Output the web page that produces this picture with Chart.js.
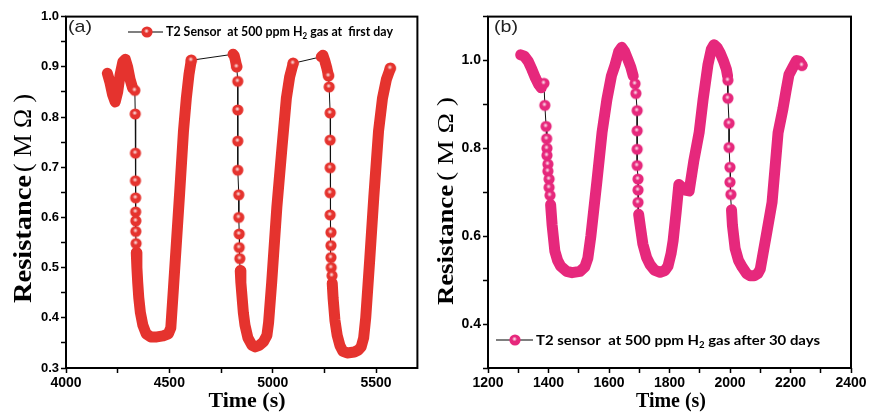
<!DOCTYPE html>
<html>
<head>
<meta charset="utf-8">
<script src="https://cdn.jsdelivr.net/npm/chart.js@4.4.1/dist/chart.umd.min.js"></script>
<style>
  body { margin: 0; background: #fff; width: 872px; height: 419px; overflow: hidden; position: relative; }
  canvas { position: absolute; top: 0; }
  #chartA { left: 0; }
  #chartB { left: 430px; }
</style>
</head>
<body>
<canvas id="chartA" width="434" height="419"></canvas>
<canvas id="chartB" width="442" height="419"></canvas>
<script>
// ---- panel (a): first day ----
const aTime = [
  4200, 4212, 4225, 4238, 4250, 4262, 4275, 4287, 4298, 4310, 4322,
  4333, 4335, 4336, 4336, 4337, 4337, 4338, 4338, 4339,
  4340, 4343, 4347, 4352, 4360, 4372, 4388, 4410, 4440, 4470, 4495, 4507, 4520, 4535, 4550, 4568, 4582, 4595, 4606,
  4808, 4814, 4820, 4826,
  4831, 4831, 4831, 4831, 4836, 4836, 4838, 4838, 4841,
  4843, 4846, 4851, 4858, 4866, 4880, 4900, 4915, 4935, 4955, 4972, 4980, 4995, 5020, 5045, 5066, 5082, 5099,
  5235, 5243, 5252, 5262, 5270,
  5273, 5278, 5278, 5278, 5278, 5278, 5282, 5282, 5282, 5283, 5287,
  5288, 5292, 5301, 5312, 5325, 5340, 5360, 5395, 5415, 5428, 5440, 5450, 5470, 5489, 5512, 5531, 5550, 5569
];
const aRes = [
  0.887, 0.870, 0.845, 0.830, 0.850, 0.885, 0.910, 0.915, 0.900, 0.875, 0.858,
  0.853, 0.806, 0.728, 0.673, 0.639, 0.611, 0.593, 0.572, 0.548,
  0.530, 0.500, 0.470, 0.440, 0.410, 0.385, 0.368, 0.362, 0.362, 0.364, 0.368, 0.380, 0.460, 0.555, 0.650, 0.770, 0.837, 0.885, 0.913,
  0.925, 0.922, 0.912, 0.900,
  0.871, 0.814, 0.752, 0.694, 0.645, 0.600, 0.567, 0.540, 0.518,
  0.494, 0.470, 0.445, 0.410, 0.385, 0.360, 0.345, 0.342, 0.345, 0.352, 0.365, 0.390, 0.470, 0.620, 0.740, 0.837, 0.880, 0.907,
  0.920, 0.923, 0.912, 0.897, 0.882,
  0.860, 0.808, 0.754, 0.699, 0.649, 0.605, 0.570, 0.544, 0.520, 0.500, 0.484,
  0.469, 0.440, 0.395, 0.365, 0.345, 0.333, 0.330, 0.332, 0.336, 0.342, 0.360, 0.400, 0.520, 0.640, 0.772, 0.837, 0.875, 0.897
];
// b = densely sampled (merged band), p = sparse single sample, e = last dense sample of a run
const aKind = (
  'b'.repeat(11) + 'p'.repeat(9) + 'b'.repeat(18) + 'e' +
  'b'.repeat(3) + 'e' + 'p'.repeat(9) + 'b'.repeat(17) + 'e' +
  'b'.repeat(4) + 'e' + 'p'.repeat(11) + 'b'.repeat(17) + 'e'
).split('');
const aXTicks = [4000, 4250, 4500, 4750, 5000, 5250, 5500];
const aXLabels = [4000, 4500, 5000, 5500];
const aYTicks = [0.3, 0.35, 0.4, 0.45, 0.5, 0.55, 0.6, 0.65, 0.7, 0.75, 0.8, 0.85, 0.9, 0.95, 1.0];
const aYLabels = [0.3, 0.4, 0.5, 0.6, 0.7, 0.8, 0.9, 1.0];

// ---- panel (b): after 30 days ----
const bTime = [
  1308, 1320, 1333, 1345, 1357, 1368, 1376,
  1385, 1388, 1392, 1394, 1395, 1395, 1398, 1398, 1402, 1402, 1405,
  1407, 1412, 1421, 1430, 1440, 1460, 1478, 1504, 1520, 1530, 1540, 1560, 1577, 1593, 1608, 1620, 1632, 1642, 1652, 1662, 1672, 1680,
  1686, 1689, 1693, 1693, 1693, 1693, 1696, 1696, 1696,
  1698, 1703, 1712, 1724, 1736, 1750, 1769, 1785, 1795, 1805, 1812, 1822, 1831, 1840, 1852, 1865, 1880, 1898, 1911, 1927, 1938, 1947, 1957, 1967, 1978, 1988, 1992,
  1993, 1993, 1997, 1997, 2000, 2000, 2003,
  2005, 2008, 2017, 2028, 2040, 2055, 2066, 2080, 2092, 2100, 2106, 2122, 2139, 2159, 2175, 2185, 2195, 2208, 2220, 2230,
  2238
];
const bRes = [
  1.013, 1.010, 0.998, 0.980, 0.960, 0.945, 0.938,
  0.948, 0.898, 0.850, 0.822, 0.800, 0.784, 0.764, 0.748, 0.730, 0.711, 0.693,
  0.672, 0.625, 0.566, 0.545, 0.532, 0.520, 0.517, 0.520, 0.530, 0.550, 0.600, 0.725, 0.836, 0.911, 0.965, 0.990, 1.020, 1.030, 1.020, 1.003, 0.985, 0.965,
  0.947, 0.925, 0.886, 0.840, 0.798, 0.761, 0.730, 0.705, 0.677,
  0.650, 0.625, 0.582, 0.552, 0.535, 0.523, 0.518, 0.522, 0.532, 0.560, 0.590, 0.655, 0.718, 0.712, 0.705, 0.703, 0.770, 0.836, 0.911, 0.990, 1.025, 1.036, 1.030, 1.018, 1.000, 0.980, 0.965,
  0.955, 0.914, 0.857, 0.802, 0.757, 0.723, 0.695,
  0.660, 0.625, 0.572, 0.545, 0.530, 0.515, 0.510, 0.510, 0.515, 0.525, 0.548, 0.610, 0.677, 0.836, 0.890, 0.930, 0.968, 0.985, 1.000, 0.998,
  0.989
];
const bKind = (
  'b'.repeat(7) + 'p'.repeat(11) + 'b'.repeat(22) + 'p'.repeat(9) +
  'b'.repeat(27) + 'p'.repeat(7) + 'b'.repeat(20) + 'e'
).split('');
const bXTicks = [1200, 1300, 1400, 1500, 1600, 1700, 1800, 1900, 2000, 2100, 2200, 2300, 2400];
const bXLabels = [1200, 1400, 1600, 1800, 2000, 2200, 2400];
const bYTicks = [0.3, 0.4, 0.5, 0.6, 0.7, 0.8, 0.9, 1.0, 1.1];
const bYLabels = [0.4, 0.6, 0.8, 1.0];

const RED = '#e5332e';
const PINK = '#e6287c';

// shaded ball used for single samples and legend
function ballImage(color, r) {
  const c = document.createElement('canvas');
  const s = Math.ceil(r * 2) + 2;
  c.width = c.height = s;
  const g = c.getContext('2d');
  const m = s / 2;
  g.fillStyle = color;
  g.beginPath(); g.arc(m, m, r, 0, Math.PI * 2); g.fill();
  const hl = g.createRadialGradient(m - 0.5, m - 1, 0, m - 0.5, m - 1, r * 0.45);
  hl.addColorStop(0, 'rgba(255,255,255,0.95)');
  hl.addColorStop(1, 'rgba(255,255,255,0)');
  g.fillStyle = hl;
  g.beginPath(); g.arc(m, m, r, 0, Math.PI * 2); g.fill();
  return c;
}

// draw text pieces scaled horizontally to a target width
function fitText(ctx, parts, x, y, width) {
  let natural = 0;
  parts.forEach(p => { ctx.font = p.font; natural += ctx.measureText(p.t).width; });
  ctx.save();
  ctx.translate(x, y);
  ctx.scale(width / natural, 1);
  ctx.textAlign = 'left';
  ctx.textBaseline = 'alphabetic';
  let cx = 0;
  parts.forEach(p => {
    ctx.font = p.font;
    ctx.fillText(p.t, cx, p.dy || 0);
    cx += ctx.measureText(p.t).width;
  });
  ctx.restore();
}

function hasLabel(list, v) {
  return list.some(l => Math.abs(l - v) < 1e-6);
}

function decorations(cfg) {
  return {
    id: 'decor',
    afterDraw(chart) {
      const ctx = chart.ctx;
      const a = chart.chartArea;
      ctx.save();
      ctx.fillStyle = '#000';
      ctx.strokeStyle = '#000';
      // frame
      ctx.lineWidth = 2;
      ctx.strokeRect(a.left, a.top, a.right - a.left, a.bottom - a.top);

      // panel letter
      ctx.fillStyle = '#222';
      fitText(ctx, [{ t: cfg.letter, font: '17px "Liberation Sans"' }], cfg.letterX, cfg.letterY, 24);
      ctx.fillStyle = '#000';

      // legend
      const L = cfg.legend;
      ctx.lineWidth = 1.2;
      ctx.beginPath();
      ctx.moveTo(L.x1, L.ballY); ctx.lineTo(L.x2, L.ballY);
      ctx.stroke();
      ctx.drawImage(cfg.ball, L.ballX - cfg.ball.width / 2, L.ballY - cfg.ball.height / 2);
      fitText(ctx, [
        { t: L.pre, font: 'bold 14px Lato' },
        { t: '2', font: 'bold 9px Lato', dy: 3 },
        { t: L.post, font: 'bold 14px Lato' }
      ], L.textX, L.textY, L.width);

      // x title
      const xt = cfg.xTitle;
      fitText(ctx, [{ t: 'Time (s)', font: 'bold 21px "Liberation Serif"' }], xt.cx - xt.width / 2, xt.y, xt.width);

      // y title (rotated)
      const yt = cfg.yTitle;
      ctx.save();
      ctx.translate(yt.x, yt.y0);
      ctx.rotate(-Math.PI / 2);
      fitText(ctx, [{ t: 'Resistance', font: 'bold ' + yt.size + 'px "Liberation Serif"' }], 0, 0, yt.len1);
      fitText(ctx, [{ t: '( M \u03A9 )', font: yt.size + 'px "Liberation Serif"' }], yt.off2, 0, yt.len2);
      ctx.restore();

      ctx.restore();
    }
  };
}

function makeChart(id, p) {
  const pts = p.time.map((t, i) => ({ x: t, y: p.res[i] }));
  const ball = ballImage(p.color, 5.6);
  const tickFont = { family: 'Liberation Sans', weight: 'bold', size: 14 };
  const tickGrid = { drawOnChartArea: false, drawTicks: true, tickLength: 5, tickColor: '#000', tickWidth: 1.5 };
  return new Chart(document.getElementById(id), {
    type: 'line',
    data: {
      datasets: [
        {
          data: pts,
          borderColor: p.color,
          borderWidth: 11,
          borderCapStyle: 'round',
          borderJoinStyle: 'round',
          tension: 0,
          pointStyle: ball,
          pointRadius: c => (p.kind[c.dataIndex] === 'b' ? 0 : 5.6),
          segment: {
            borderColor: c => (p.kind[c.p0DataIndex] === 'b' && p.kind[c.p1DataIndex] !== 'p') ? p.color : 'rgba(0,0,0,0)'
          },
          order: 1
        },
        {
          data: pts,
          borderColor: '#111',
          borderWidth: 1,
          pointRadius: 0,
          tension: 0,
          order: 2
        }
      ]
    },
    options: {
      responsive: false,
      animation: false,
      events: [],
      layout: { padding: { top: 15, right: p.padRight, left: 0, bottom: 0 } },
      plugins: { legend: { display: false }, tooltip: { enabled: false } },
      scales: {
        x: {
          type: 'linear',
          min: p.xMin, max: p.xMax,
          border: { display: false },
          grid: tickGrid,
          ticks: {
            autoSkip: false, maxRotation: 0,
            color: '#000', font: tickFont, padding: 2,
            callback: v => (hasLabel(p.xLabels, v) ? String(v) : '')
          },
          afterBuildTicks: s => { s.ticks = p.xTicks.map(v => ({ value: v })); },
          afterFit: s => { s.height = 51; }
        },
        y: {
          type: 'linear',
          min: p.yMin, max: p.yMax,
          border: { display: false },
          grid: tickGrid,
          ticks: {
            autoSkip: false,
            color: '#000', font: { family: 'Liberation Sans', weight: 'bold', size: p.yFont }, padding: 2,
            callback: v => (hasLabel(p.yLabels, v) ? v.toFixed(1) : '')
          },
          afterBuildTicks: s => { s.ticks = p.yTicks.map(v => ({ value: v })); },
          afterFit: s => { s.width = p.yWidth; }
        }
      }
    },
    plugins: [decorations(Object.assign({ ball }, p.decor))]
  });
}

makeChart('chartA', {
  time: aTime, res: aRes, kind: aKind, color: RED,
  xMin: 4000, xMax: 5700, xTicks: aXTicks, xLabels: aXLabels,
  yMin: 0.3, yMax: 1.0, yTicks: aYTicks, yLabels: aYLabels, yFont: 13,
  yWidth: 66, padRight: 6,
  decor: {
    letter: '(a)', letterX: 68, letterY: 32,
    legend: { x1: 128, x2: 163, ballX: 147, ballY: 32, textX: 166, textY: 36, width: 227,
              pre: 'T2 Sensor  at 500 ppm H', post: ' gas at  first day' },
    xTitle: { cx: 247, y: 406.5, width: 77 },
    yTitle: { x: 30.6, y0: 303, size: 26, len1: 128, off2: 131, len2: 78 }
  }
});

makeChart('chartB', {
  time: bTime, res: bRes, kind: bKind, color: PINK,
  xMin: 1200, xMax: 2400, xTicks: bXTicks, xLabels: bXLabels,
  yMin: 0.3, yMax: 1.1, yTicks: bYTicks, yLabels: bYLabels, yFont: 14,
  yWidth: 58, padRight: 21,
  decor: {
    letter: '(b)', letterX: 64, letterY: 32,
    legend: { x1: 66, x2: 103, ballX: 85, ballY: 340, textX: 106, textY: 345, width: 284,
              pre: 'T2 sensor  at 500 ppm H', post: ' gas after 30 days' },
    xTitle: { cx: 241, y: 406.5, width: 70 },
    yTitle: { x: 22.7, y0: 305, size: 23, len1: 120, off2: 124, len2: 84 }
  }
});
</script>
</body>
</html>
